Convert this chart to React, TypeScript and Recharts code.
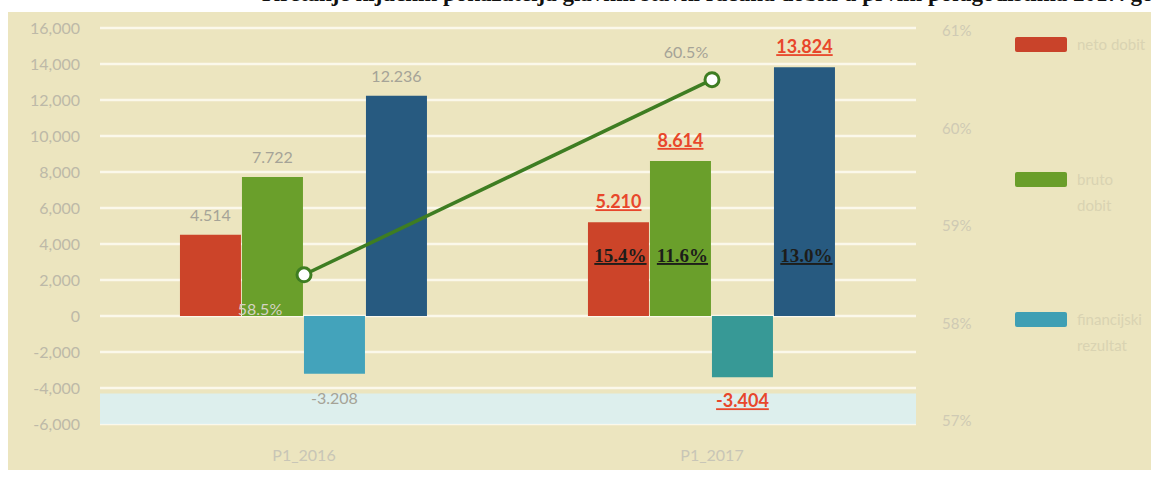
import React from "react";
import {
  ComposedChart, Bar, Line, XAxis, YAxis, CartesianGrid, Cell, LabelList, ReferenceArea,
} from "recharts";

// ── data ──────────────────────────────────────────────────────────────────────
const periods = ["P1_2016", "P1_2017"];
const redValues = [4514, 5210];
const greenValues = [7722, 8614];
const tealValues = [-3208, -3404];
const navyValues = [12236, 13824];
const lineValues = [58.5, 60.5];
const innerRed = [null, "15.4%"];
const innerGreen = [null, "11.6%"];
const innerNavy = [null, "13.0%"];
const leftTicks = [-6000, -4000, -2000, 0, 2000, 4000, 6000, 8000, 10000, 12000, 14000, 16000];
const rightTicks = [57, 58, 59, 60, 61];
const legendItems = [
  { name: "neto dobit", color: "#c9432a" },
  { name: "bruto dobit", color: "#6a9e2a" },
  { name: "financijski rezultat", color: "#3f9fb4" },
];

const data = periods.map((p, i) => ({
  period: p,
  red: redValues[i],
  green: greenValues[i],
  teal: tealValues[i],
  navy: navyValues[i],
  pct: lineValues[i],
}));

const W = 1151;
const H = 477;
const BG = "#ece5bf";
const AXIS = "#bdb9a8";
const GRAY_LABEL = "#a5a397";
const RED_LABEL = "#e8472b";

const fmtDots = (v: number) =>
  (v < 0 ? "-" : "") + Math.abs(v).toString().replace(/\B(?=(\d{3})+(?!\d))/g, ".");

// value label above/below a bar: gray for 2016, red underlined for 2017
const valueLabel = (props: any) => {
  const { x, y, width, height, value, index } = props;
  const cx = x + width / 2;
  const top = Math.min(y, y + height);
  const bottom = Math.max(y, y + height);
  const ty = value < 0 ? bottom + 30 : top - 14;
  const first = index === 0;
  return (
    <text
      x={cx}
      y={ty}
      textAnchor="middle"
      fontFamily="Lato, sans-serif"
      fontSize={first ? 16 : 18}
      fontWeight={first ? 400 : 700}
      fill={first ? GRAY_LABEL : RED_LABEL}
      style={first ? undefined : { textDecoration: "underline" }}
    >
      {fmtDots(value)}
    </text>
  );
};

const innerLabel = (arr: (string | null)[]) => (props: any) => {
  const { x, y, width, height, index } = props;
  const txt = arr[index];
  if (!txt) return null;
  const bottom = Math.max(y, y + height);
  return (
    <text
      x={x + width / 2 + 2}
      y={bottom - 54}
      textAnchor="middle"
      fontFamily="Liberation Serif, serif"
      fontSize={19}
      fontWeight={700}
      fill="#1d1d1a"
      style={{ textDecoration: "underline" }}
    >
      {txt}
    </text>
  );
};

const lineLabel = (props: any) => {
  const { x, y, value, index } = props;
  const dx = index === 0 ? -44 : -26;
  const dy = index === 0 ? 40 : -22;
  return (
    <text
      x={x + dx}
      y={y + dy}
      textAnchor="middle"
      fontFamily="Lato, sans-serif"
      fontSize={16}
      fill={index === 0 ? "#d6d3c4" : GRAY_LABEL}
    >
      {`${value.toFixed(1)}%`}
    </text>
  );
};

export default function App() {
  return (
    <div style={{ position: "absolute", left: 0, top: 0, width: W, height: H, background: "#fff", overflow: "hidden" }}>
      <div style={{ position: "absolute", left: 8, top: 12, width: W - 8, height: 458, background: BG }} />
      <div
        style={{
          position: "absolute", left: 262, top: -19, whiteSpace: "nowrap",
          fontFamily: "Liberation Serif, serif", fontWeight: 700, fontSize: 23, color: "#111",
        }}
      >
        Kretanje ključnih pokazatelja glavnih stavki računa dobiti u prvim polugodištima 2017. godine
      </div>
      <div style={{ position: "absolute", left: 0, top: 0 }}>
        <ComposedChart
          width={W}
          height={H}
          data={data}
          margin={{ top: 28, right: 150, bottom: 13, left: 0 }}
          barCategoryGap="19.6%"
          barGap={1}
        >
          <ReferenceArea yAxisId="left" y1={-6000} y2={-4300} fill="#dcf0f2" fillOpacity={0.9} stroke="none" />
          <CartesianGrid vertical={false} stroke="#fbf8ea" strokeWidth={2.5} yAxisId="left" />
          <XAxis
            dataKey="period"
            axisLine={false}
            tickLine={false}
            height={40}
            tickMargin={20}
            tick={{ fill: "#c8c5b6", fontSize: 16, fontFamily: "Lato, sans-serif" }}
          />
          <YAxis
            yAxisId="left"
            width={100}
            domain={[-6000, 16000]}
            ticks={leftTicks}
            axisLine={false}
            tickLine={false}
            tickMargin={14}
            tickFormatter={(v: number) => v.toLocaleString("en-US")}
            tick={{ fill: AXIS, fontSize: 16, fontFamily: "Lato, sans-serif" }}
          />
          <YAxis
            yAxisId="right"
            orientation="right"
            width={85}
            domain={[56.97, 61.03]}
            ticks={rightTicks}
            axisLine={false}
            tickLine={false}
            tickMargin={20}
            tickFormatter={(v: number) => `${v}%`}
            tick={{ fill: "#cfcab4", fontSize: 15, fontFamily: "Lato, sans-serif" }}
          />
          <Bar yAxisId="left" dataKey="red" fill="#cc4429" isAnimationActive={false}>
            <LabelList dataKey="red" content={valueLabel} />
            <LabelList dataKey="red" content={innerLabel(innerRed)} />
          </Bar>
          <Bar yAxisId="left" dataKey="green" fill="#6a9f2b" isAnimationActive={false}>
            <LabelList dataKey="green" content={valueLabel} />
            <LabelList dataKey="green" content={innerLabel(innerGreen)} />
          </Bar>
          <Bar yAxisId="left" dataKey="teal" isAnimationActive={false}>
            {data.map((_, i) => <Cell key={i} fill={i === 0 ? "#43a3bb" : "#379996"} />)}
            <LabelList dataKey="teal" content={valueLabel} />
          </Bar>
          <Bar yAxisId="left" dataKey="navy" fill="#275a80" isAnimationActive={false}>
            <LabelList dataKey="navy" content={valueLabel} />
            <LabelList dataKey="navy" content={innerLabel(innerNavy)} />
          </Bar>
          <Line
            yAxisId="right"
            dataKey="pct"
            stroke="#3e7d22"
            strokeWidth={3.5}
            dot={{ r: 7, fill: "#ffffff", stroke: "#3e7d22", strokeWidth: 3 }}
            isAnimationActive={false}
          >
            <LabelList dataKey="pct" content={lineLabel} />
          </Line>
        </ComposedChart>
      </div>
      {legendItems.map((it, i) => (
        <div key={it.name} style={{ position: "absolute", left: 1015, top: [37, 172, 312][i], display: "flex" }}>
          <div style={{ width: 52, height: 15, background: it.color, borderRadius: 2 }} />
          <div
            style={{
              marginLeft: 10, width: 70, fontFamily: "Lato, sans-serif", fontSize: 15,
              lineHeight: "26px", color: "#d9d3b2", marginTop: -6,
            }}
          >
            {it.name}
          </div>
        </div>
      ))}
    </div>
  );
}
